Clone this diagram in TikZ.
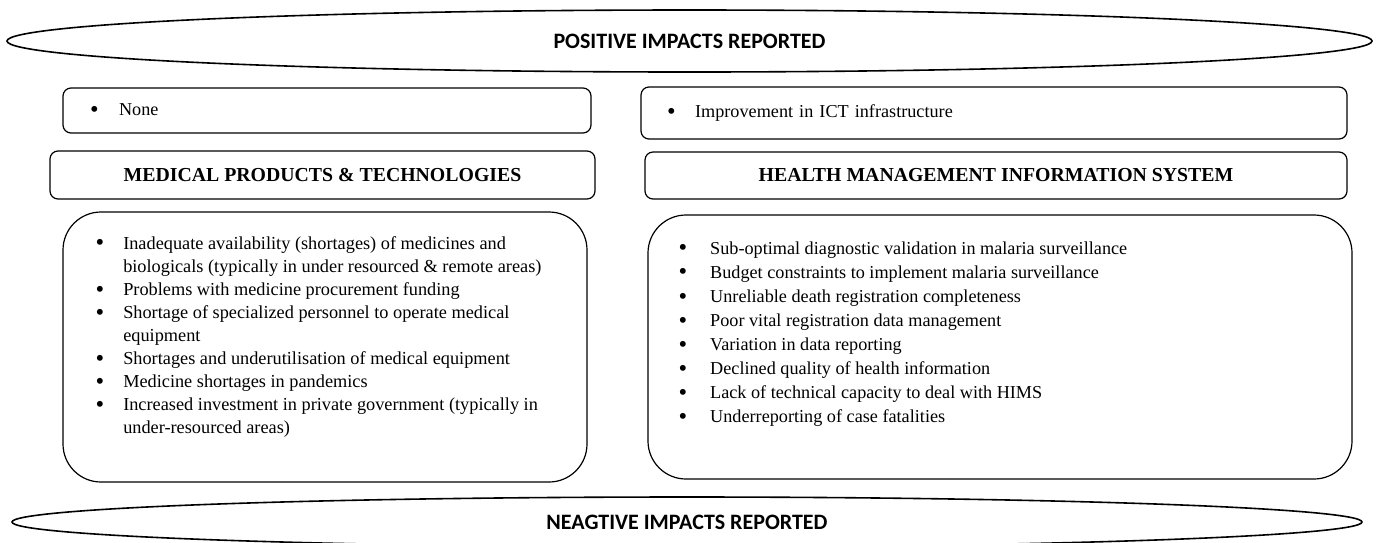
\documentclass[tikz,border=0pt]{standalone}
\usepackage{fontspec}
\setmainfont{Liberation Serif}
\newfontfamily\headfont{Carlito}
\usetikzlibrary{shapes.geometric}
\newcommand{\listdot}{\raisebox{-0.1em}{\scalebox{1.35}{\textbullet}}}

\begin{document}
\begin{tikzpicture}[x=1pt,y=-1pt,line width=1.2pt]
            \tikzstyle{band}    = [ellipse, draw, line width=1.6pt, inner sep=0pt, font=\headfont\bfseries\fontsize{22}{26}\selectfont]
            \tikzstyle{posbox}  = [draw, rounded corners=8pt, inner sep=0pt, font=\fontsize{18.2}{22}\selectfont]
            \tikzstyle{catbox}  = [draw, rounded corners=8pt, inner sep=0pt, font=\bfseries\fontsize{19.8}{23}\selectfont]
            \tikzstyle{negbox}  = [draw, rounded corners=38pt, inner sep=0pt]
            \tikzstyle{listtext} = [anchor=base west, inner sep=0pt, align=left]

            \useasboundingbox (0,0) rectangle (1378,542);

            % Positive impacts .........................
            \node[band, minimum width=1365pt, minimum height=62pt] (positive) at (689.5,41) {POSITIVE IMPACTS REPORTED};

            \node[posbox, minimum width=528pt, minimum height=45pt, text width=528pt] (none) at (327,110.5)
                {\hspace{27pt}\listdot\hspace{20.5pt}None};
            \node[posbox, minimum width=706pt, minimum height=52pt, text width=706pt] (ict) at (994,113)
                {\hspace{26pt}\listdot\hspace{19.5pt}Improvement in ICT infrastructure};

            % Building blocks .........................
            \node[catbox, minimum width=545pt, minimum height=48pt] (mpt) at (322.5,175) {MEDICAL PRODUCTS \& TECHNOLOGIES};
            \node[catbox, minimum width=702pt, minimum height=47pt] (hmis) at (996,175.5) {HEALTH MANAGEMENT INFORMATION SYSTEM};

            % Negative impacts .........................
            \node[negbox, minimum width=524pt, minimum height=270pt] (mptneg) at (325,347) {};
            \node[negbox, minimum width=704pt, minimum height=264pt] (hmisneg) at (1000,347) {};

            \node[listtext, font=\fontsize{18.3}{23.1}\selectfont] (mptlist) at (95,249)
                {\begin{tabular}[t]{@{}l@{\hspace{19pt}}l@{}}
                 \listdot & Inadequate availability (shortages) of medicines and\\
                          & biologicals (typically in under resourced \& remote areas)\\
                 \listdot & Problems with medicine procurement funding\\
                 \listdot & Shortage of specialized personnel to operate medical\\
                          & equipment\\
                 \listdot & Shortages and underutilisation of medical equipment\\
                 \listdot & Medicine shortages in pandemics\\
                 \listdot & Increased investment in private government (typically in\\
                          & under-resourced areas)
                 \end{tabular}};
            \node[listtext, font=\fontsize{18.2}{24.1}\selectfont] (hmislist) at (678,254)
                {\begin{tabular}[t]{@{}l@{\hspace{23pt}}l@{}}
                 \listdot & Sub-optimal diagnostic validation in malaria surveillance\\
                 \listdot & Budget constraints to implement malaria surveillance\\
                 \listdot & Unreliable death registration completeness\\
                 \listdot & Poor vital registration data management\\
                 \listdot & Variation in data reporting\\
                 \listdot & Declined quality of health information\\
                 \listdot & Lack of technical capacity to deal with HIMS\\
                 \listdot & Underreporting of case fatalities
                 \end{tabular}};

            \node[band, minimum width=1350pt, minimum height=50pt] (negative) at (687,522) {NEAGTIVE IMPACTS REPORTED};

        \end{tikzpicture}
\end{document}
